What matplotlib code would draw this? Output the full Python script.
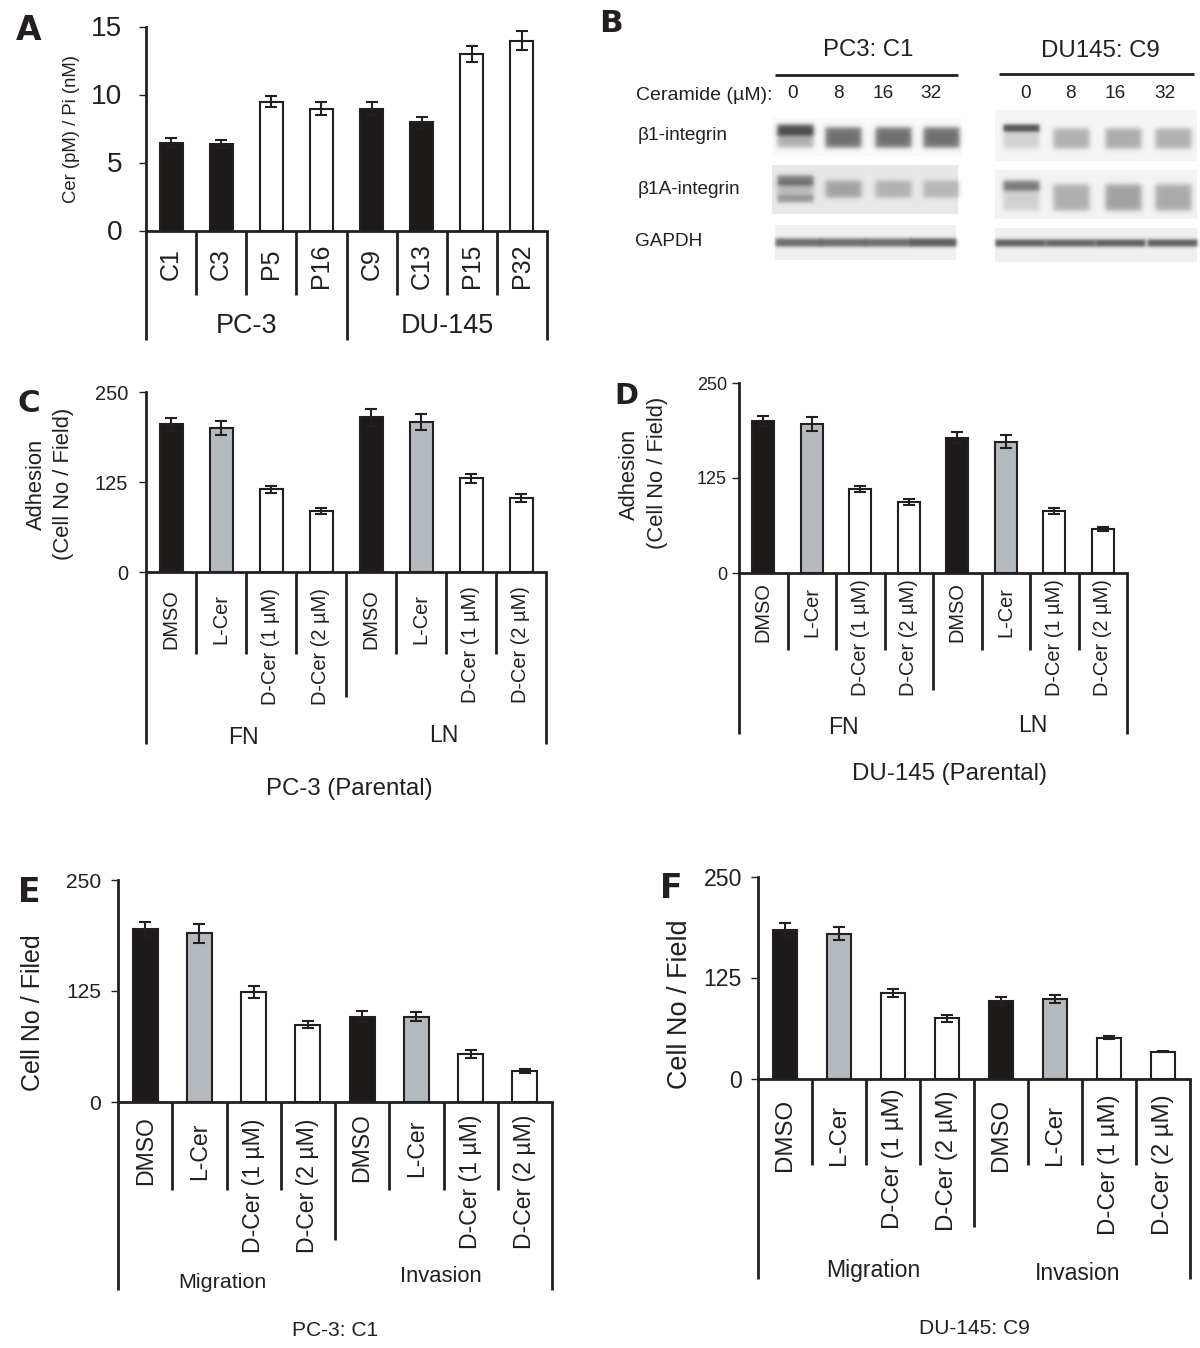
# libraries
import matplotlib
matplotlib.use('Agg')
import matplotlib.pyplot as plt
import numpy as np

W, H = 1200, 1348
INK = '#231f20'
DARK = '#1d1a1a'
GREY = '#b5babf'
WHITE = '#ffffff'

# panel A
a_labels = ['C1', 'C3', 'P5', 'P16', 'C9', 'C13', 'P15', 'P32']
a_values = [6.5, 6.4, 9.5, 9.0, 9.0, 8.0, 13.0, 14.0]
a_errors = [0.35, 0.3, 0.4, 0.5, 0.5, 0.4, 0.6, 0.7]
a_colors = [DARK, DARK, WHITE, WHITE, DARK, DARK, WHITE, WHITE]
a_ticks = [0, 5, 10, 15]

# panels C to F
treatments = ['DMSO', 'L-Cer', 'D-Cer (1 µM)', 'D-Cer (2 µM)'] * 2
treat_colors = [DARK, GREY, WHITE, WHITE] * 2
count_ticks = [0, 125, 250]

c_values = [205, 200, 115, 85, 215, 208, 130, 103]
c_errors = [9, 10, 5, 4, 12, 11, 6, 6]
d_values = [200, 196, 110, 93, 178, 173, 81, 58]
d_errors = [7, 9, 4, 4, 7, 8, 4, 3]
e_values = [195, 190, 124, 87, 96, 96, 54, 35]
e_errors = [8, 11, 7, 4, 6, 5, 4, 2]
f_values = [185, 180, 107, 75, 97, 99, 51, 34]
f_errors = [8, 8, 5, 4, 5, 5, 2, 1]

# panel B blot lane strengths
lanes_pc3 = [795, 843, 893, 941]
lanes_du = [1021, 1071, 1123, 1173]
gapdh_lanes_pc3 = [798, 843, 888, 933]
gapdh_lanes_du = [1020, 1070, 1120, 1172]
b1_pc3 = [0.3, 0.55, 0.55, 0.55]
b1a_pc3 = [0.2, 0.3, 0.24, 0.22]
b1_du = [0.14, 0.28, 0.3, 0.28]
b1a_du = [0.14, 0.28, 0.33, 0.3]
top_pc3 = [0.6, 0.0, 0.0, 0.0]
top1a_pc3 = [0.45, 0.0, 0.0, 0.0]
top_du = [0.65, 0.0, 0.0, 0.0]
top1a_du = [0.45, 0.0, 0.0, 0.0]
gapdh_pc3 = [0.55, 0.55, 0.55, 0.62]
gapdh_du = [0.62, 0.6, 0.62, 0.62]

fig = plt.figure(figsize=(W / 100, H / 100), dpi=100)
plt.rcParams['font.family'] = ['Liberation Sans', 'DejaVu Sans']

# overlay in pixel coordinates for the bracket lines and free text
page = fig.add_axes([0, 0, 1, 1], zorder=5)
page.set_xlim(0, W)
page.set_ylim(H, 0)
page.axis('off')
page.patch.set_alpha(0)


def write(x, y, s, px, **kw):
    kw.setdefault('ha', 'center')
    kw.setdefault('va', 'center')
    kw.setdefault('color', INK)
    return page.text(x, y + 2, s, fontsize=px * 0.72, **kw)


def letter(x, y, s, px):
    write(x, y, s, px, fontweight='bold', family='DejaVu Sans')


def stroke(x0, y0, x1, y1, lw=2.0):
    page.plot([x0, x1], [y0, y1], color=INK, lw=lw, solid_capstyle='butt')


def bars(left, right, y0, ytop, ymax, values, errors, colors, ticks, tick_px, tick_x):
    ax = fig.add_axes([left / W, 1 - y0 / H, (right - left) / W, (y0 - ytop) / H])
    x = np.arange(len(values)) + 0.5
    ax.bar(x, values, width=0.46, color=colors, edgecolor=INK, linewidth=1.5)
    ax.errorbar(x, values, yerr=errors, fmt='none', ecolor=INK, elinewidth=1.5,
                capsize=4.2, capthick=1.5)
    ax.set_xlim(0, len(values))
    ax.set_ylim(0, ymax)
    ax.set_xticks([])
    ax.set_yticks(ticks)
    ax.set_yticklabels([])
    ax.tick_params(axis='y', length=5, width=1, color=INK)
    for side in ['top', 'right']:
        ax.spines[side].set_visible(False)
    for side in ['left', 'bottom']:
        ax.spines[side].set_linewidth(2)
        ax.spines[side].set_color(INK)
    for t in ticks:
        write(tick_x, y0 - (y0 - ytop) * t / ymax, str(t), tick_px, ha='right')


def brackets(left, right, y0, minor, centre, end):
    step = (right - left) / 8
    for i in range(1, 8):
        if i != 4:
            stroke(left + i * step, y0, left + i * step, minor)
    stroke(left + 4 * step, y0, left + 4 * step, centre)
    stroke(left, y0, left, end)
    stroke(right, y0, right, end)


def cat_labels(left, right, labels, ys, px):
    step = (right - left) / 8
    for i, lab in enumerate(labels):
        write(left + (i + 0.5) * step, ys[i], lab, px, rotation=90)


# A
bars(146, 547, 231, 27, 15, a_values, a_errors, a_colors, a_ticks, 28, 122)
brackets(146, 547, 231, 295, 340, 340)
cat_labels(146, 547, a_labels, [262, 262, 262, 264, 262, 264, 264, 264], 25)
write(246, 324, 'PC-3', 27)
write(447, 324, 'DU-145', 27)
write(71, 127, 'Cer (pM) / Pi (nM)', 18.5, rotation=90)
letter(29, 29, 'A', 33)

# C
bars(146, 546, 572, 392, 250, c_values, c_errors, treat_colors, count_ticks, 20, 128)
brackets(146, 546, 572, 654, 697, 744)
c_ys = [617, 617, 645, 645, 617, 617, 643, 643]
cat_labels(146, 546, treatments, c_ys, 20)
write(243, 736, 'FN', 23)
write(444, 734, 'LN', 23)
write(349, 787, 'PC-3 (Parental)', 24)
write(36, 482, 'Adhesion', 22, rotation=90)
write(63, 482, '(Cell No / Field)', 22, rotation=90)
letter(29, 402, 'C', 31)

# D
bars(739, 1127, 573, 383, 250, d_values, d_errors, treat_colors, count_ticks, 18, 727)
brackets(739, 1127, 573, 650, 690, 734)
d_ys = [610, 610, 636, 636, 610, 610, 636, 636]
cat_labels(739, 1127, treatments, d_ys, 20)
write(843, 725, 'FN', 23)
write(1033, 724, 'LN', 23)
write(949, 772, 'DU-145 (Parental)', 24)
write(629, 472, 'Adhesion', 22, rotation=90)
write(658, 471, '(Cell No / Field)', 22, rotation=90)
letter(626, 394, 'D', 29)

# E
bars(118, 552, 1102, 880, 250, e_values, e_errors, treat_colors, count_ticks, 21, 101)
brackets(118, 552, 1102, 1190, 1240, 1290)
e_ys = [1149, 1149, 1184, 1184, 1146, 1146, 1180, 1180]
cat_labels(118, 552, treatments, e_ys, 23)
write(222, 1280, 'Migration', 21.5)
write(441, 1274, 'Invasion', 22)
write(335, 1329, 'PC-3: C1', 21)
write(33, 1011, 'Cell No / Filed', 25, rotation=90)
letter(29, 891, 'E', 33)

# F
bars(758, 1190, 1079, 877, 250, f_values, f_errors, treat_colors, count_ticks, 23, 742)
brackets(758, 1190, 1079, 1165, 1227, 1279)
f_ys = [1133, 1133, 1157, 1159, 1133, 1133, 1163, 1163]
cat_labels(758, 1190, treatments, f_ys, 24)
write(873, 1269, 'Migration', 23)
write(1078, 1271, 'Invasion', 23)
write(974, 1327, 'DU-145: C9', 21)
write(680, 1002, 'Cell No / Field', 27, rotation=90)
letter(671, 887, 'F', 33)


# B: blots are painted as soft grey boxes into one page sized picture
yy, xx = np.mgrid[0:300, 590:1200]
blot = np.ones(yy.shape)


def soft(x0, x1, y0, y1, s):
    fx = 0.5 * (np.tanh((xx - x0) / s) - np.tanh((xx - x1) / s))
    fy = 0.5 * (np.tanh((yy - y0) / s) - np.tanh((yy - y1) / s))
    return fx * fy


def strip(x0, x1, y0, y1, grey):
    blot[(xx >= x0) & (xx < x1) & (yy >= y0) & (yy < y1)] = grey


def lanes(centres, strengths, y0, y1, half=18, s=3.0):
    for c, v in zip(centres, strengths):
        blot[:] -= v * soft(c - half, c + half, y0, y1, s) * blot


strip(772, 962, 118, 156, 0.98)
strip(772, 958, 165, 214, 0.91)
strip(775, 956, 225, 260, 0.94)
strip(995, 1197, 110, 161, 0.96)
strip(995, 1197, 170, 219, 0.95)
strip(995, 1197, 228, 262, 0.94)

lanes(lanes_pc3, b1_pc3, 127, 147)
lanes(lanes_pc3, top_pc3, 124, 135, s=2.5)
lanes(lanes_pc3, top1a_pc3, 175, 185, s=2.5)
lanes(lanes_pc3, b1a_pc3, 180, 197)
lanes(lanes_pc3[:1], [0.3], 195, 202, s=2)
lanes(gapdh_lanes_pc3, gapdh_pc3, 238, 246, half=23, s=2)
lanes(lanes_du, b1_du, 128, 148)
lanes(lanes_du, top_du, 124, 131, s=2)
lanes(lanes_du, b1a_du, 184, 210)
lanes(lanes_du, top1a_du, 180, 190, s=2.5)
lanes(gapdh_lanes_du, gapdh_du, 239, 246, half=25, s=2)

blot_ax = fig.add_axes([590 / W, 1 - 300 / H, 610 / W, 300 / H], zorder=1)
blot_ax.imshow(np.clip(blot, 0, 1), cmap='gray', vmin=0, vmax=1, aspect='auto',
               extent=[590, 1200, 300, 0], interpolation='bilinear')
blot_ax.axis('off')

letter(611, 22, 'B', 31)
write(868, 48, 'PC3: C1', 24)
write(1100, 49, 'DU145: C9', 24)
stroke(775, 75, 958, 75)
stroke(999, 74, 1194, 74)
write(636, 93, 'Ceramide (µM):', 19.5, ha='left')
for x, s in zip([793, 838, 883, 931], ['0', '8', '16', '32']):
    write(x, 92, s, 19)
for x, s in zip([1026, 1070, 1115, 1165], ['0', '8', '16', '32']):
    write(x, 92, s, 19)
write(638, 134, 'β1-integrin', 19, ha='left')
write(638, 187, 'β1A-integrin', 19, ha='left')
write(635, 239, 'GAPDH', 19, ha='left')

fig.savefig('out.png', dpi=100)
